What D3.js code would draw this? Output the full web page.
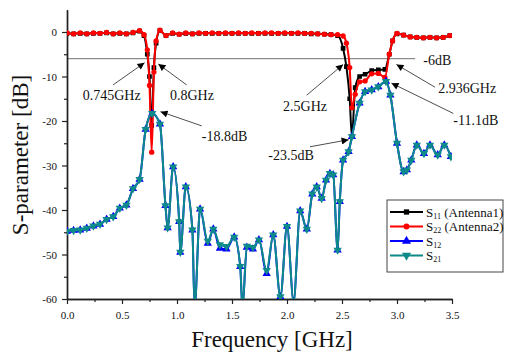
<!DOCTYPE html>
<html>
<head>
<meta charset="utf-8">
<script src="https://cdn.jsdelivr.net/npm/d3@7"></script>
<style>
  body { margin: 0; background: #fff; }
  svg { display: block; }
</style>
</head>
<body>
<svg id="chart"></svg>
<script>
// reflection curves (S11 / S22), frequency in GHz, level in dB
const freqRefl = [0, 0.06, 0.12, 0.18, 0.24, 0.30, 0.36, 0.42, 0.48, 0.54, 0.60, 0.66, 0.70, 0.73, 0.75, 0.77, 0.79, 0.81, 0.845,
  0.90, 0.96, 1.02, 1.08, 1.14, 1.20, 1.26, 1.32, 1.38, 1.44, 1.50, 1.56, 1.62, 1.68, 1.74, 1.80, 1.86, 1.92, 1.98,
  2.04, 2.10, 2.16, 2.22, 2.28, 2.34, 2.40, 2.46, 2.51, 2.54, 2.57, 2.59, 2.62, 2.66, 2.71, 2.77, 2.83, 2.89, 2.93,
  2.96, 3.00, 3.06, 3.12, 3.18, 3.24, 3.30, 3.36, 3.42, 3.48];
const s11 = [-0.3, -0.4, -0.3, -0.4, -0.3, -0.3, -0.2, -0.4, -0.3, -0.4, -0.2, 0.2, -0.8, -5, -10, -21, -8, -2.5, 0.3,
  -0.8, -0.3, -0.5, -0.3, -0.4, -0.3, -0.3, -0.3, -0.3, -0.3, -0.3, -0.3, -0.3, -0.3, -0.3, -0.3, -0.3, -0.3, -0.3,
  -0.3, -0.3, -0.3, -0.4, -0.4, -0.5, -0.6, -0.8, -3.7, -7.8, -15, -23.5, -12.5, -10, -9.5, -8.7, -8.5, -8.4, -5,
  -2, -0.4, -0.7, -1.1, -1.2, -1.3, -1.2, -1.3, -1.2, -0.8];
const s22 = [-0.2, -0.4, -0.2, -0.4, -0.2, -0.3, -0.1, -0.4, -0.2, -0.4, -0.1, 0.3, -0.6, -4, -12, -27, -9, -2, 0.4,
  -0.8, -0.2, -0.5, -0.2, -0.4, -0.2, -0.3, -0.2, -0.3, -0.2, -0.3, -0.2, -0.3, -0.2, -0.3, -0.2, -0.2, -0.3, -0.2,
  -0.3, -0.2, -0.3, -0.3, -0.4, -0.5, -0.6, -0.6, -0.9, -2.5, -8, -17, -14, -11.2, -11, -9.4, -9.3, -10.2, -5,
  -2, -0.3, -0.7, -1.1, -1.2, -1.3, -1.2, -1.3, -1.2, -0.8];

// transmission curves (S12 / S21)
const freqTrans = [0, 0.06, 0.12, 0.18, 0.24, 0.30, 0.36, 0.42, 0.48, 0.54, 0.60, 0.66, 0.715, 0.775, 0.845, 0.895, 0.915,
  0.965, 1.02, 1.03, 1.08, 1.14, 1.16, 1.21, 1.28, 1.33, 1.39, 1.45, 1.52, 1.575, 1.595, 1.635, 1.69, 1.745, 1.815,
  1.875, 1.94, 2.00, 2.06, 2.12, 2.18, 2.23, 2.27, 2.315, 2.355, 2.39, 2.42, 2.46, 2.48, 2.51, 2.56, 2.59, 2.66,
  2.71, 2.77, 2.83, 2.90, 2.94, 3.00, 3.06, 3.09, 3.13, 3.18, 3.245, 3.30, 3.37, 3.43, 3.49];
const s12 = [-44.8, -44.6, -44.5, -44.1, -43.6, -43.2, -42.1, -41.5, -39.6, -38.9, -35.2, -33.1, -21.9, -18.3, -20.7, -39, -44,
  -30.3, -42.6, -49.5, -34.8, -44.5, -62, -39.8, -47.5, -44.3, -48.6, -48.8, -46.1, -52.7, -62, -48.4, -48.8, -46.7, -54.3,
  -45.6, -59.5, -43.7, -60.5, -40.2, -44.3, -36.4, -34.8, -37.4, -33.3, -31.8, -32.1, -49, -38.1, -28.8, -26.9, -23.5, -16,
  -13.4, -13, -12.3, -11.1, -14.2, -25, -31.4, -31, -28.8, -25.4, -27.3, -25.4, -27.6, -25.4, -28];
const s21 = [-44.8, -44.6, -44.5, -44.1, -43.6, -43.2, -42.1, -41.5, -39.6, -38.9, -35.2, -33.1, -21.9, -18.3, -20.7, -39, -44,
  -30.3, -42.6, -49.5, -34.8, -44.5, -62, -39.8, -47, -44.3, -47.8, -48.2, -46.1, -52.7, -62, -48.1, -48.4, -46.7, -53.6,
  -45.6, -59.5, -43.7, -60.5, -40.2, -44.3, -36.4, -34.8, -37.4, -33.3, -31.8, -32.1, -49, -38.1, -28.8, -26.9, -23.5, -16,
  -13.4, -13, -12.3, -11.1, -14.2, -25, -31.4, -31, -28.8, -25.4, -27.3, -25.4, -27.6, -25.4, -28];

const xTicks = [0, 0.5, 1.0, 1.5, 2.0, 2.5, 3.0, 3.5];
const yTicks = [0, -10, -20, -30, -40, -50, -60];
const refLevel = -6;

// annotation text + arrow (data units): [label, textF, textDb, tailF, tailDb, tipF, tipDb]
const notes = [
  ['0.745GHz', 0.143, -15.3, 0.418, -11.9, 0.705, -6.9],
  ['0.8GHz', 0.936, -15.3, 1.088, -11.9, 0.83, -7.2],
  ['-18.8dB', 1.225, -24.5, 1.225, -21.1, 0.85, -17.9],
  ['2.5GHz', 1.964, -17.8, 2.179, -14.2, 2.51, -7.3],
  ['2.936GHz', 3.375, -13.7, 3.345, -12.4, 2.995, -7.3],
  ['-11.1dB', 3.512, -20.9, 3.512, -18.3, 2.95, -11.5],
  ['-23.5dB', 1.83, -28.8, 2.209, -25.8, 2.56, -24.2]
];

const W = 507, H = 355;
const FONT = 'Liberation Serif, Tinos, Times New Roman, Times, Nimbus Roman, Nimbus Roman No9 L, FreeSerif, Noto Serif, DejaVu Serif, serif';
const svg = d3.select('#chart').attr('width', W).attr('height', H).attr('font-family', FONT);

const x = d3.scaleLinear().domain([0, 3.5]).range([67, 452]);
const y = d3.scaleLinear().domain([-60, 5]).range([299, 9.75]);

const defs = svg.append('defs');
defs.append('clipPath').attr('id', 'plot')
  .append('rect').attr('x', 67).attr('y', 9.75).attr('width', 385).attr('height', 289.25);
defs.append('marker')
  .attr('id', 'arrow').attr('viewBox', '0 0 10 10').attr('refX', 10).attr('refY', 5)
  .attr('markerWidth', 9).attr('markerHeight', 7).attr('markerUnits', 'userSpaceOnUse').attr('orient', 'auto')
  .append('path').attr('d', 'M0,0 L10,5 L0,10 Z').attr('fill', '#000');

// -6 dB reference line
svg.append('line')
  .attr('x1', x(0)).attr('x2', x(3.165))
  .attr('y1', y(refLevel)).attr('y2', y(refLevel))
  .attr('stroke', '#8c8c8c').attr('stroke-width', 1.2);

// axes
const axisColor = '#222';
const xAxis = svg.append('g').attr('transform', `translate(0,${y(-60)})`)
  .call(d3.axisBottom(x).tickValues(xTicks).tickFormat(d3.format('.1f')).tickSize(5).tickSizeOuter(0));
const xMinor = svg.append('g').attr('transform', `translate(0,${y(-60)})`)
  .call(d3.axisBottom(x).tickValues(xTicks.slice(0, -1).map(d => d + 0.25)).tickFormat('').tickSize(3).tickSizeOuter(0));
const yAxis = svg.append('g').attr('transform', `translate(${x(0)},0)`)
  .call(d3.axisLeft(y).tickValues(yTicks).tickFormat(d => d).tickSize(5).tickSizeOuter(0));
const yMinor = svg.append('g').attr('transform', `translate(${x(0)},0)`)
  .call(d3.axisLeft(y).tickValues(yTicks.slice(0, -1).map(d => d - 5)).tickFormat('').tickSize(3).tickSizeOuter(0));

[xAxis, xMinor, yAxis, yMinor].forEach(g => {
  g.attr('font-family', FONT);
  g.select('.domain').attr('stroke', axisColor).attr('stroke-width', 1.4);
  g.selectAll('.tick line').attr('stroke', axisColor).attr('stroke-width', 1.2);
  g.selectAll('.tick text').attr('fill', '#111').attr('font-size', 11);
});
xAxis.selectAll('.tick text').attr('dy', '1.05em');
yAxis.selectAll('.tick text').attr('x', -10);

// axis titles
svg.append('text').attr('x', 272).attr('y', 347).attr('text-anchor', 'middle')
  .attr('font-size', 23).attr('fill', '#111').text('Frequency [GHz]');
svg.append('text').attr('transform', 'translate(28,155) rotate(-90)').attr('text-anchor', 'middle')
  .attr('font-size', 23).attr('fill', '#111').text('S-parameter [dB]');

// series
const series = [
  { sub: '11', extra: ' (Antenna1)', f: freqRefl, v: s11, color: '#000000', symbol: d3.symbolSquare, size: 22, rot: 0 },
  { sub: '22', extra: ' (Antenna2)', f: freqRefl, v: s22, color: '#ff0000', symbol: d3.symbolCircle, size: 22, rot: 0 },
  { sub: '12', extra: '', f: freqTrans, v: s12, color: '#0000ff', symbol: d3.symbolTriangle, size: 30, rot: 0 },
  { sub: '21', extra: '', f: freqTrans, v: s21, color: '#0f8a8a', symbol: d3.symbolTriangle, size: 30, rot: 180 }
];

const line = d3.line().x(d => x(d[0])).y(d => y(d[1])).curve(d3.curveMonotoneX);
const plot = svg.append('g').attr('clip-path', 'url(#plot)');

series.forEach(s => {
  const pts = s.f.map((f, i) => [f, s.v[i]]);
  plot.append('path').datum(pts)
    .attr('d', line).attr('fill', 'none')
    .attr('stroke', s.color).attr('stroke-width', 2).attr('stroke-linejoin', 'round');
  plot.selectAll(null).data(pts).join('path')
    .attr('d', d3.symbol(s.symbol, s.size))
    .attr('transform', d => `translate(${x(d[0])},${y(d[1])}) rotate(${s.rot})`)
    .attr('fill', s.color);
});

// annotations
const ann = svg.append('g').attr('font-size', 14).attr('fill', '#111');
notes.forEach(n => {
  ann.append('text').attr('x', x(n[1])).attr('y', y(n[2])).text(n[0]);
  ann.append('line')
    .attr('x1', x(n[3])).attr('y1', y(n[4])).attr('x2', x(n[5])).attr('y2', y(n[6]))
    .attr('stroke', '#222').attr('stroke-width', 0.8).attr('marker-end', 'url(#arrow)');
});
ann.append('text').attr('x', x(3.239)).attr('y', y(-7.4)).text(refLevel + 'dB');

// legend
const lg = svg.append('g').attr('transform', 'translate(387,200)');
lg.append('rect').attr('width', 116).attr('height', 72)
  .attr('fill', '#fff').attr('stroke', '#444').attr('stroke-width', 1);
series.forEach((s, i) => {
  const row = lg.append('g').attr('transform', `translate(0,${12 + i * 14.5})`);
  row.append('line').attr('x1', 3).attr('x2', 36).attr('stroke', s.color).attr('stroke-width', 2);
  row.append('path').attr('d', d3.symbol(s.symbol, s.size + 6))
    .attr('transform', `translate(19.5,0) rotate(${s.rot})`).attr('fill', s.color);
  const t = row.append('text').attr('x', 39).attr('y', 4.5).attr('font-size', 13).attr('fill', '#111');
  t.append('tspan').text('S');
  t.append('tspan').attr('font-size', 8).attr('dy', 2).text(s.sub);
  if (s.extra) t.append('tspan').attr('dy', -2).text(s.extra);
});
</script>
</body>
</html>
